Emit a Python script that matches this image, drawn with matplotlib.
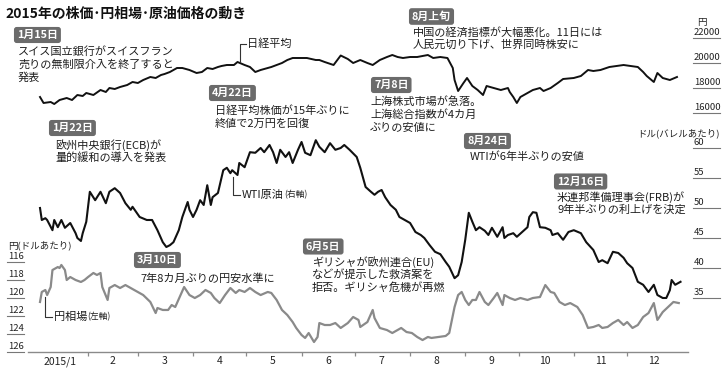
import matplotlib
matplotlib.use('Agg')
import matplotlib.pyplot as plt
import matplotlib.transforms as mtransforms
from matplotlib.lines import Line2D

plt.rcParams['font.family'] = ['Noto Sans CJK JP', 'DejaVu Sans']

W, H = 722, 368

# ---------------- data (day of year 2015, 0 = Jan 1) ----------------
nikkei_day = [4, 6, 10, 12, 15, 19, 22, 25, 28, 30, 34, 38, 41, 43, 46, 49, 53, 56, 59, 62,
              66, 69, 72, 74, 77, 81, 84, 88, 92, 95, 98, 101, 104, 106, 109, 113, 115, 119,
              122, 125, 128, 132, 134, 137, 140, 143, 146, 150, 154, 159, 161, 164, 169, 173,
              177, 180, 184, 188, 191, 195, 199, 202, 205, 208, 212, 216, 222, 225, 229, 233,
              236, 237, 239, 242, 244, 247, 250, 253, 255, 259, 263, 267, 268, 270, 272, 274,
              278, 281, 285, 287, 291, 295, 298, 304, 308, 312, 315, 319, 324, 328, 332, 336,
              340, 343, 345, 349, 351, 354, 358, 362]
nikkei_val = [17280, 16800, 16880, 16720, 17040, 17200, 17040, 17440, 17360, 17600, 17440,
              17840, 17680, 18000, 17920, 18080, 18240, 18480, 18400, 18640, 18880, 18800,
              19040, 19120, 19280, 19600, 19600, 19440, 19200, 19280, 19600, 19520, 19680,
              19760, 19840, 19840, 20080, 19840, 19680, 19280, 19440, 19600, 19680, 19840,
              20000, 20240, 20400, 20400, 20400, 20240, 20240, 20080, 19840, 20600, 20320,
              20000, 20240, 20000, 19840, 20240, 20480, 20640, 20480, 20400, 20480, 20480,
              20640, 20400, 20480, 20400, 19600, 18640, 17760, 18400, 18800, 18160, 17840,
              17440, 18160, 18000, 17840, 18000, 17680, 17280, 16800, 17280, 17600, 17840,
              18000, 17760, 18000, 18400, 18720, 18800, 18960, 19440, 19360, 19440, 19680,
              19760, 19840, 19760, 19680, 19280, 18960, 18480, 19200, 18800, 18640, 18880]

wti_day = [4, 5, 7, 8, 11, 12, 14, 16, 18, 21, 24, 25, 27, 28, 30, 32, 35, 38, 41, 43, 46,
           49, 52, 55, 56, 60, 64, 67, 70, 73, 75, 77, 79, 82, 84, 87, 88, 90, 92, 94, 96,
           98, 100, 101, 104, 107, 109, 111, 112, 115, 116, 119, 122, 125, 128, 130, 133,
           135, 137, 139, 142, 144, 146, 149, 151, 153, 156, 159, 161, 164, 167, 170, 173,
           175, 178, 182, 184, 187, 190, 192, 194, 196, 198, 201, 204, 206, 209, 212, 215,
           218, 220, 223, 226, 229, 232, 234, 237, 239, 241, 243, 245, 247, 249, 251, 254,
           256, 258, 261, 264, 265, 267, 270, 272, 275, 278, 279, 281, 283, 285, 288, 291,
           292, 295, 298, 301, 304, 308, 311, 315, 318, 320, 323, 326, 329, 332, 334, 337,
           340, 343, 346, 349, 351, 354, 356, 358, 359, 361, 364]
wti_val = [50.0, 48.0, 48.3, 48.0, 46.3, 48.0, 46.8, 48.0, 46.7, 47.5, 45.8, 45.0, 44.5,
           45.8, 47.7, 52.7, 51.3, 52.7, 50.8, 52.7, 53.3, 52.5, 50.8, 49.7, 50.2, 48.5,
           48.0, 48.0, 46.3, 44.3, 43.5, 43.8, 44.3, 46.3, 48.5, 51.0, 49.7, 48.5, 49.7,
           51.3, 50.5, 53.8, 50.5, 51.8, 52.5, 56.3, 56.7, 55.8, 56.3, 55.5, 57.5, 56.8,
           59.3, 59.2, 60.0, 59.3, 60.5, 59.3, 57.5, 59.7, 58.5, 59.3, 57.5, 59.7, 61.0,
           59.2, 58.8, 61.3, 60.2, 59.3, 60.8, 59.7, 60.0, 60.5, 59.7, 58.5, 56.7, 53.5,
           52.7, 52.2, 52.7, 53.0, 51.8, 50.5, 49.7, 48.5, 48.0, 47.5, 46.0, 45.5, 45.0,
           43.8, 42.7, 42.3, 41.0, 40.2, 38.3, 38.8, 41.0, 44.7, 49.2, 47.7, 46.3, 46.8,
           46.2, 45.5, 46.7, 45.2, 46.8, 45.0, 45.5, 45.8, 45.2, 46.0, 46.8, 48.5, 49.3,
           49.2, 46.8, 46.7, 46.3, 45.5, 45.8, 44.7, 46.0, 46.3, 45.8, 44.3, 43.0, 41.0,
           41.3, 40.8, 42.7, 42.5, 41.7, 40.8, 40.0, 37.7, 37.2, 36.0, 37.2, 35.5, 35.0,
           35.0, 36.3, 38.0, 37.2, 37.7]

yen_day = [4, 5, 7, 8, 10, 11, 14, 15, 16, 18, 19, 21, 24, 27, 29, 31, 34, 36, 38, 39, 42,
           43, 46, 49, 52, 55, 59, 62, 66, 69, 70, 73, 76, 78, 80, 83, 85, 88, 91, 94, 97,
           100, 102, 105, 108, 111, 114, 116, 119, 122, 125, 128, 132, 134, 137, 140, 143,
           146, 148, 151, 153, 155, 158, 160, 161, 164, 167, 170, 173, 177, 180, 183, 184,
           188, 191, 192, 195, 199, 202, 205, 207, 210, 213, 216, 219, 222, 224, 228, 232,
           234, 237, 239, 241, 243, 245, 247, 249, 251, 254, 256, 259, 261, 264, 265, 268,
           271, 274, 278, 281, 285, 288, 291, 293, 296, 299, 302, 306, 309, 312, 315, 318,
           320, 323, 326, 329, 332, 334, 337, 340, 343, 346, 349, 351, 354, 357, 360, 363]
yen_val = [120.44, 119.33, 119.11, 119.67, 118.78, 116.89, 116.56, 116.67, 116.33, 116.89,
           118.0, 117.67, 118.0, 118.22, 118.0, 117.67, 117.22, 117.44, 117.22, 118.78,
           120.22, 118.89, 118.56, 118.89, 118.56, 118.89, 119.33, 119.67, 120.44, 121.67,
           121.11, 121.33, 121.33, 120.78, 121.0, 119.67, 118.78, 119.67, 120.0, 119.67,
           119.11, 119.44, 120.0, 120.56, 119.67, 118.89, 119.44, 119.11, 119.33, 118.89,
           119.33, 119.67, 119.33, 119.44, 120.22, 121.33, 121.89, 122.67, 123.33, 124.11,
           124.44, 123.89, 124.89, 124.33, 122.78, 123.0, 123.0, 122.78, 123.33, 122.78,
           122.11, 122.44, 123.22, 122.67, 121.33, 122.22, 123.33, 123.56, 123.89, 123.56,
           123.33, 123.78, 123.89, 124.33, 124.67, 124.33, 124.44, 124.33, 124.22, 123.89,
           121.0, 119.67, 119.33, 120.22, 120.78, 120.22, 120.22, 119.33, 120.44, 120.78,
           120.0, 119.44, 120.78, 119.67, 120.0, 120.22, 120.0, 120.22, 120.0, 119.89,
           118.56, 119.33, 119.44, 120.44, 120.78, 120.56, 121.0, 121.89, 123.33, 123.22,
           123.0, 123.33, 123.22, 122.78, 122.44, 123.0, 122.67, 123.33, 123.0, 122.11,
           121.67, 120.56, 122.44, 121.56, 121.0, 120.44, 120.56]

month_start = [0, 31, 59, 90, 120, 151, 181, 212, 243, 273, 304, 334]
month_mid = [15, 45, 74, 105, 135, 166, 196, 227, 258, 288, 319, 349]
month_labels = ['2015/1', '2', '3', '4', '5', '6', '7', '8', '9', '10', '11', '12']
nikkei_ticks = [22000, 20000, 18000, 16000]
wti_ticks = [60, 55, 50, 45, 40, 35]
yen_ticks = [116, 118, 120, 122, 124, 126]

# ---------------- layout helpers ----------------
def fx(x):
    return x / W

def fy(y):
    return 1 - y / H

fig = plt.figure(figsize=(W / 100, H / 100), dpi=100)
fig.patch.set_facecolor('white')

L, R, T, B = 28, 688, 20, 352
rect = [fx(L), fy(B), (R - L) / W, (B - T) / H]
ax_y = fig.add_axes(rect)
ax_w = fig.add_axes(rect, sharex=ax_y)
ax_n = fig.add_axes(rect, sharex=ax_y)
for a in (ax_y, ax_w, ax_n):
    a.patch.set_visible(False)
    for s in a.spines.values():
        s.set_visible(False)
    a.set_yticks([])
for a in (ax_w, ax_n):
    a.tick_params(axis='x', which='both', bottom=False, labelbottom=False)

ax_y.set_xlim(-2.75, 368.2)
ax_n.set_ylim(-3120, 23440)
ax_w.set_ylim(26, 81.33)
ax_y.set_ylim(126, 89.11)

ax_y.plot(yen_day, yen_val, color='#8a8a8a', lw=1.6, solid_joinstyle='round')
ax_w.plot(wti_day, wti_val, color='#111111', lw=1.5, solid_joinstyle='round')
ax_n.plot(nikkei_day, nikkei_val, color='#111111', lw=1.4, solid_joinstyle='round')

# x axis
ax_y.spines['bottom'].set_visible(True)
ax_y.spines['bottom'].set_color('#8a8a8a')
ax_y.spines['bottom'].set_linewidth(1.0)
ax_y.set_xticks(month_start[1:])
ax_y.set_xticklabels([])
ax_y.set_xticks(month_mid, minor=True)
ax_y.set_xticklabels(month_labels, minor=True, fontsize=7.5, color='#222222')
ax_y.tick_params(axis='x', which='major', length=3, width=0.9, color='#8a8a8a', direction='out')
ax_y.tick_params(axis='x', which='minor', length=0, pad=3)

# y scales drawn as label + underline
def scale(ax, ticks, x0, x1, fmt):
    tr = mtransforms.blended_transform_factory(fig.transFigure, ax.transData)
    for v in ticks:
        fig.add_artist(Line2D([fx(x0), fx(x1)], [v, v], transform=tr, color='#777777', lw=0.8))
        off = mtransforms.offset_copy(tr, fig=fig, y=0.5, units='points')
        fig.text(fx(x0 + 1), v, fmt(v), transform=off, ha='left', va='bottom',
                 fontsize=6.8, color='#222222')

scale(ax_n, nikkei_ticks, 693, 720, lambda v: f'{v}')
scale(ax_w, wti_ticks, 693, 720, lambda v: f'{v}')
scale(ax_y, yen_ticks, 7, 24, lambda v: f'{v}')

fig.text(fx(702), fy(23), '円', fontsize=6.8, ha='center', va='center', color='#222222')
fig.text(fx(720), fy(133), 'ドル(バレルあたり)', fontsize=6.8, ha='right', va='center', color='#222222')
fig.text(fx(8), fy(245), '円(ドルあたり)', fontsize=6.8, ha='left', va='center', color='#222222')

# title
fig.text(fx(5), fy(14), '2015年の株価･円相場･原油価格の動き', fontsize=10,
         fontweight='bold', ha='left', va='center', color='#111111')

# annotations
BOX = '#6b6b6b'
TXT = '#1e1e1e'

def box(label, x, y):
    fig.text(fx(x + 4), fy(y), label, fontsize=7.8, fontweight='bold', color='white',
             ha='left', va='center',
             bbox=dict(boxstyle='round,pad=0.28,rounding_size=0.25', fc=BOX, ec='none'))

def lines(texts, x, y0, dy=12.8, size=8):
    for i, t in enumerate(texts):
        fig.text(fx(x), fy(y0 + i * dy), t, fontsize=size, ha='left', va='center', color=TXT)

box('1月15日', 13, 35)
lines(['スイス国立銀行がスイスフラン', '売りの無制限介入を終了すると', '発表'], 18, 52)

box('4月22日', 208, 93)
lines(['日経平均株価が15年ぶりに', '終値で2万円を回復'], 215, 111)

box('1月22日', 48, 128)
lines(['欧州中央銀行(ECB)が', '量的緩和の導入を発表'], 55, 145)

box('3月10日', 133, 260)
lines(['7年8カ月ぶりの円安水準に'], 140, 279)

box('6月5日', 302, 246.5)
lines(['ギリシャが欧州連合(EU)', 'などが提示した救済案を', '拒否。ギリシャ危機が再燃'], 312, 262)

box('7月8日', 370, 85)
lines(['上海株式市場が急落。', '上海総合指数が4カ月', 'ぶりの安値に'], 370, 102)

box('8月上旬', 408, 16.5)
lines(['中国の経済指標が大幅悪化。11日には', '人民元切り下げ、世界同時株安に'], 413, 32)

box('8月24日', 463, 141)
lines(['WTIが6年半ぶりの安値'], 470, 157)

box('12月16日', 553, 181.5)
lines(['米連邦準備理事会(FRB)が', '9年半ぶりの利上げを決定'], 557, 197)

# series labels with leader lines
def leader(pts, label, small, tx, ty):
    xs = [fx(p[0]) for p in pts]
    ys = [fy(p[1]) for p in pts]
    fig.add_artist(Line2D(xs, ys, transform=fig.transFigure, color='#333333', lw=0.8))
    t = fig.text(fx(tx), fy(ty), label, fontsize=8, ha='left', va='center', color=TXT)
    if small:
        ax_y.annotate(small, xy=(1, 0.5), xycoords=t, fontsize=6.3, ha='left', va='center',
                      color=TXT, annotation_clip=False)

leader([(240, 62), (240, 44), (246, 44)], '日経平均', None, 247, 44)
leader([(233, 177), (233, 195), (240, 195)], 'WTI原油', '(右軸)', 242, 195)
leader([(45, 297), (45, 317), (52, 317)], '円相場', '(左軸)', 54, 317)

fig.savefig('out.png', dpi=100, facecolor='white')
